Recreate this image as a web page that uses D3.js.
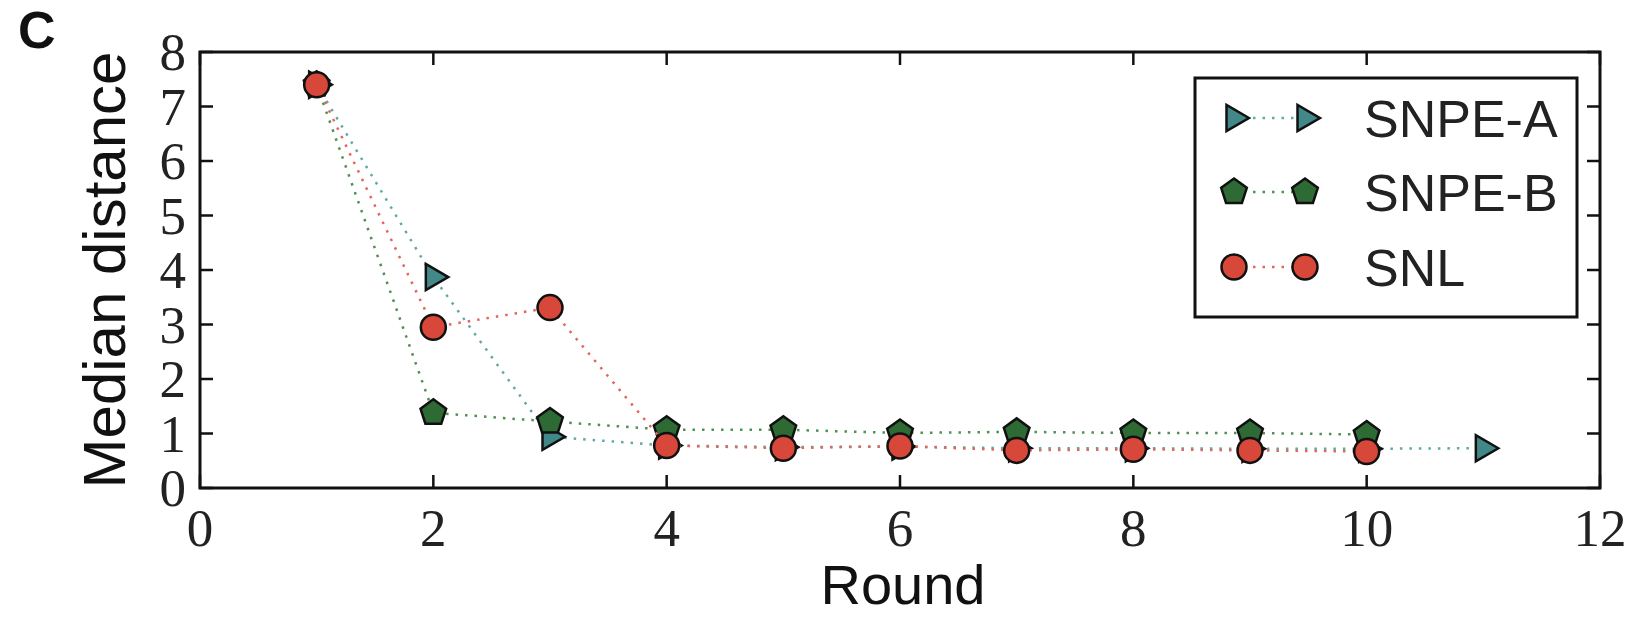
<!DOCTYPE html>
<html><head><meta charset="utf-8">
<script src="https://cdn.jsdelivr.net/npm/d3@7"></script>
<style>body{margin:0;background:#fff}</style>
</head><body>
<script>
const rounds = [1,2,3,4,5,6,7,8,9,10,11];
const snpeA = [7.4,3.87,0.94,0.78,0.75,0.76,0.73,0.73,0.72,0.72,0.73];
const snpeB = [7.4,1.38,1.22,1.07,1.07,1.01,1.03,1.01,1.01,0.98];
const snl   = [7.4,2.95,3.31,0.78,0.73,0.77,0.69,0.71,0.69,0.67];
const xTicks = [0,2,4,6,8,10,12];
const yTicks = [0,1,2,3,4,5,6,7,8];
const seriesNames = ["SNPE-A","SNPE-B","SNL"];

const W=1647,H=629;
const svg=d3.select("body").append("svg").attr("width",W).attr("height",H);
const x=d3.scaleLinear().domain([0,12]).range([200,1600]);
const y=d3.scaleLinear().domain([0,8]).range([488,52]);

const series=[
 {name:seriesNames[0],vals:snpeA,shape:"tri",fill:"#428888",line:"#5fa9a6"},
 {name:seriesNames[1],vals:snpeB,shape:"pent",fill:"#2e6a34",line:"#4f9150"},
 {name:seriesNames[2],vals:snl,shape:"circ",fill:"#d8483a",line:"#e2675a"}
];
function marker(g,shape,fill){
  let m;
  if(shape==="circ"){m=g.append("circle").attr("r",12.5);}
  else if(shape==="tri"){
    const r=15; m=g.append("path").attr("d",d3.line()([[r,0],[-r*0.5,-r*0.87],[-r*0.5,r*0.87]])+"Z");
  } else {
    const r=13.5; const pts=d3.range(5).map(i=>{const a=-Math.PI/2+i*2*Math.PI/5;return [r*Math.cos(a),r*Math.sin(a)];});
    m=g.append("path").attr("d",d3.line()(pts)+"Z");
  }
  m.attr("fill",fill).attr("stroke","#111").attr("stroke-width",2.5);
}
const plot=svg.append("g");
series.forEach(s=>{
  const data=s.vals.map((v,i)=>[rounds[i],v]);
  plot.append("path").attr("d",d3.line().x(d=>x(d[0])).y(d=>y(d[1]))(data))
    .attr("fill","none").attr("stroke",s.line).attr("stroke-width",2.5)
    .attr("stroke-dasharray","2.5,7");
  data.forEach(d=>{const g=plot.append("g").attr("transform",`translate(${x(d[0])},${y(d[1])})`);marker(g,s.shape,s.fill);});
});

// frame
svg.append("rect").attr("x",200).attr("y",52).attr("width",1400).attr("height",436)
  .attr("fill","none").attr("stroke","#111").attr("stroke-width",3);
// ticks
const tk=svg.append("g").attr("stroke","#111").attr("stroke-width",2.5);
xTicks.forEach(t=>{
  tk.append("line").attr("x1",x(t)).attr("x2",x(t)).attr("y1",488).attr("y2",475);
  tk.append("line").attr("x1",x(t)).attr("x2",x(t)).attr("y1",52).attr("y2",65);
});
yTicks.forEach(t=>{
  tk.append("line").attr("x1",200).attr("x2",213).attr("y1",y(t)).attr("y2",y(t));
  tk.append("line").attr("x1",1600).attr("x2",1587).attr("y1",y(t)).attr("y2",y(t));
});
const serif="'Liberation Serif','DejaVu Serif',serif";
svg.append("g").selectAll("text").data(xTicks).join("text")
  .attr("x",d=>x(d)).attr("y",546).attr("text-anchor","middle")
  .attr("font-family",serif).attr("font-size",53).attr("fill","#222").text(d=>d);
svg.append("g").selectAll("text").data(yTicks).join("text")
  .attr("x",186).attr("y",d=>y(d)+18).attr("text-anchor","end")
  .attr("font-family",serif).attr("font-size",53).attr("fill","#222").text(d=>d);

const sans="'Liberation Sans',Arial,sans-serif";
svg.append("text").attr("x",903).attr("y",604).attr("text-anchor","middle")
  .attr("font-family",sans).attr("font-size",56).attr("fill","#111").text("Round");
svg.append("text").attr("transform","translate(125,270) rotate(-90)").attr("text-anchor","middle")
  .attr("font-family",sans).attr("font-size",60).attr("fill","#111").text("Median distance");
svg.append("text").attr("x",18).attr("y",48).attr("font-family",sans).attr("font-weight","bold")
  .attr("font-size",52).attr("fill","#111").text("C");

// legend
const lg=svg.append("g");
lg.append("rect").attr("x",1195).attr("y",78).attr("width",382).attr("height",239)
  .attr("fill","#fff").attr("stroke","#111").attr("stroke-width",3);
const rowY=[118,192,267];
series.forEach((s,i)=>{
  lg.append("line").attr("x1",1234).attr("x2",1305).attr("y1",rowY[i]).attr("y2",rowY[i])
    .attr("stroke",s.line).attr("stroke-width",2.5).attr("stroke-dasharray","2.5,7");
  [1234,1305].forEach(px=>{const g=lg.append("g").attr("transform",`translate(${px},${rowY[i]})`);marker(g,s.shape,s.fill);});
  lg.append("text").attr("x",1364).attr("y",rowY[i]+19).attr("font-family",sans)
    .attr("font-size",52).attr("fill","#222").text(s.name);
});
</script>
</body></html>
